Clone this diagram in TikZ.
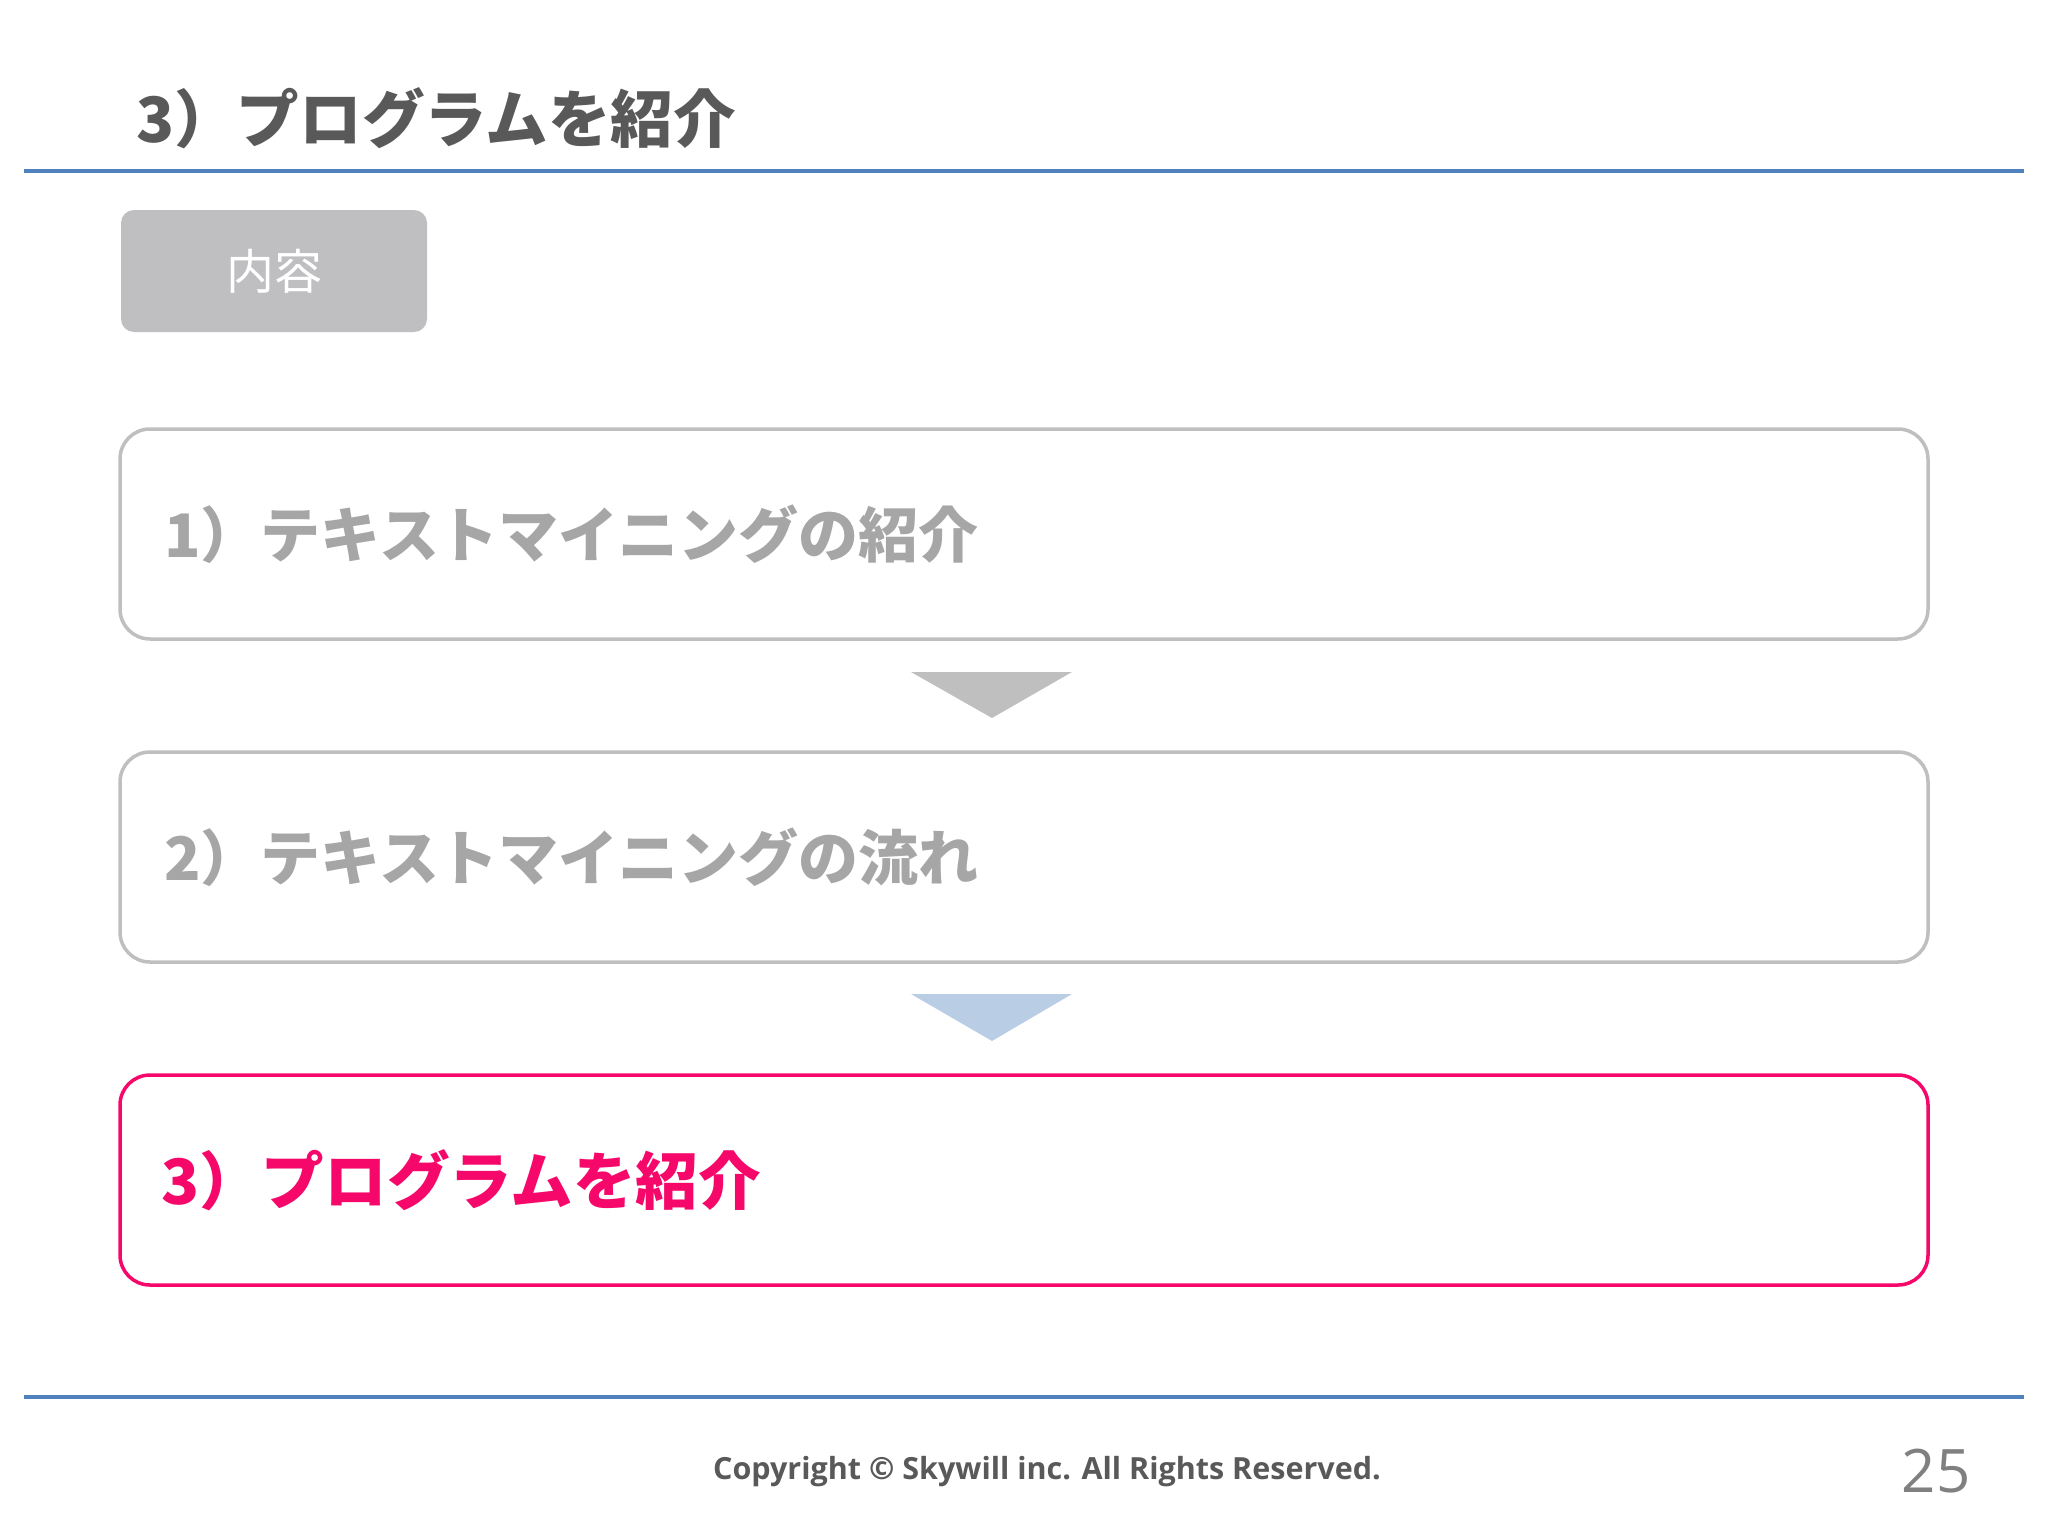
\documentclass[tikz,border=0pt]{standalone}
\usepackage{fontspec}
\newfontfamily\jp{Noto Sans CJK JP}
\newfontfamily\lat{Open Sans}
\definecolor{titlegray}{HTML}{595959}
\definecolor{txtgray}{HTML}{A6A6A6}
\definecolor{bordergray}{HTML}{BFBFBF}
\definecolor{tabgray}{HTML}{BFBFC1}
\definecolor{rulecol}{HTML}{4F81BD}
\definecolor{arrowblue}{HTML}{B9CDE5}
\definecolor{hotpink}{HTML}{F5086A}
\definecolor{pagegray}{HTML}{808080}
\tikzset{
  rulebar/.style={draw=rulecol, line width=4pt},
  itembox/.style={draw=bordergray, line width=3.5pt, rounded corners=30pt, fill=white,
    minimum width=1808pt, minimum height=210pt, inner sep=0pt},
  activebox/.style={itembox, draw=hotpink},
  itemtext/.style={anchor=west, inner sep=0pt, font=\jp\bfseries\fontsize{60}{70}\selectfont, text=txtgray},
  tabbox/.style={fill=tabgray, rounded corners=13pt, minimum width=306pt, minimum height=122pt,
    inner sep=0pt, text=white, font=\jp\fontsize{48}{56}\selectfont},
  downarrow/.style={fill=bordergray, draw=none},
}
\begin{document}
\begin{tikzpicture}[x=1pt, y=-1pt]
\useasboundingbox (0,0) rectangle (2048,1536);
\fill[white] (0,0) rectangle (2048,1536);
% title
\node[anchor=west, inner sep=0pt, text=titlegray, font=\jp\bfseries\fontsize{62.6}{72}\selectfont] (title) at (136,118) {3）プログラムを紹介};
\coordinate (rt1) at (24,171);
\coordinate (rt2) at (2024,171);
\draw[rulebar] (rt1) -- (rt2);
% tab
\node[tabbox] (tab) at (274,271) {内容};
% boxes
\node[itembox] (b1) at (1024,534) {};
\node[itemtext] (t1) at (164,534) {1）テキストマイニングの紹介};
\node[itembox] (b2) at (1024,857) {};
\node[itemtext] (t2) at (164,857) {2）テキストマイニングの流れ};
\node[activebox] (b3) at (1024,1180) {};
\node[itemtext, text=hotpink, font=\jp\bfseries\fontsize{62.6}{72}\selectfont] (t3) at (161,1180) {3）プログラムを紹介};
% arrows between boxes
\fill[downarrow] (911,672) -- (1072,672) -- (992,718) -- cycle;
\fill[downarrow, fill=arrowblue] (911,994) -- (1072,994) -- (992,1041) -- cycle;
% footer
\coordinate (rb1) at (24,1397);
\coordinate (rb2) at (2024,1397);
\draw[rulebar] (rb1) -- (rb2);
\node[inner sep=0pt, text=titlegray, font=\lat\bfseries\fontsize{30.5}{36}\selectfont] (copy) at (1047,1472) {Copyright © Skywill inc. All Rights Reserved.};
\node[inner sep=0pt, text=pagegray, font=\lat\fontsize{60}{70}\selectfont] (page) at (1936,1471) {25};
\end{tikzpicture}
\end{document}
